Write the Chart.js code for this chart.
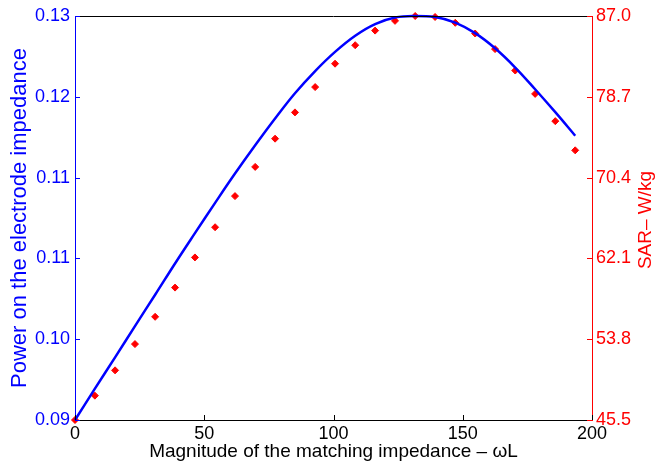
<!DOCTYPE html>
<html>
<head>
<meta charset="utf-8">
<script src="https://cdn.jsdelivr.net/npm/chart.js@4.4.1/dist/chart.umd.min.js"></script>
<style>
  body { margin: 0; background: #fff; }
  #wrap { width: 668px; height: 466px; }
</style>
</head>
<body>
<div id="wrap"><canvas id="sarChart"></canvas></div>
<script>
// matching impedance magnitude (omega L)
const impedance = [0, 7.7, 15.5, 23.2, 31.0, 38.7, 46.4, 54.2, 61.9, 69.7, 77.4, 85.1, 92.9,
    100.6, 108.4, 116.1, 123.8, 131.6, 139.3, 147.1, 154.8, 162.5, 170.3, 178.0, 185.8, 193.5];
// power on the electrode impedance (left axis)
const power = [0.0900, 0.0931, 0.0962, 0.0993, 0.1024, 0.1055, 0.1085, 0.1115, 0.1144, 0.1172,
    0.11985, 0.12235, 0.12455, 0.12645, 0.12805, 0.1292, 0.12985, 0.1300, 0.1299, 0.12935,
    0.1283, 0.1268, 0.1249, 0.12275, 0.12048, 0.11815];
// SAR W/kg (right axis)
const sar = [45.5, 48.0, 50.6, 53.3, 56.1, 59.1, 62.2, 65.3, 68.5, 71.5, 74.4, 77.1, 79.7,
    82.1, 84.0, 85.5, 86.5, 87.0, 86.9, 86.3, 85.2, 83.6, 81.4, 79.0, 76.2, 73.2];

const xTicks = [0, 50, 100, 150, 200];
const powerTicks = [0.09, 0.098, 0.106, 0.114, 0.122, 0.13];
const powerTickLabels = ['0.09', '0.10', '0.11', '0.11', '0.12', '0.13'];
const sarTicks = [45.5, 53.8, 62.1, 70.4, 78.7, 87.0];
const sarTickLabels = ['45.5', '53.8', '62.1', '70.4', '78.7', '87.0'];

const xTitle = 'Magnitude of the matching impedance \u2013 \u03c9L';
const powerTitle = 'Power on the electrode impedance';
const sarTitle = 'SAR\u2013 W/kg';

const FONT = "'Liberation Sans', Arial, Helvetica, sans-serif";
Chart.defaults.font.family = FONT;

// MATLAB style box: top edge, inward tick marks, right title read bottom-to-top
const boxPlugin = {
    id: 'matlabBox',
    afterDraw(chart) {
        const { ctx, chartArea: a, scales } = chart;
        ctx.save();
        ctx.lineWidth = 1;

        ctx.strokeStyle = '#000';
        ctx.beginPath();
        ctx.moveTo(a.left, Math.round(a.top) + 0.5);
        ctx.lineTo(a.right, Math.round(a.top) + 0.5);
        ctx.stroke();

        scales.x.ticks.forEach((t, i) => {
            const px = Math.round(scales.x.getPixelForTick(i)) + 0.5;
            ctx.beginPath();
            ctx.moveTo(px, a.bottom);
            ctx.lineTo(px, a.bottom - 5);
            ctx.stroke();
        });

        ctx.strokeStyle = '#0000ff';
        scales.y.ticks.forEach((t, i) => {
            const py = Math.round(scales.y.getPixelForTick(i)) + 0.5;
            ctx.beginPath();
            ctx.moveTo(a.left, py);
            ctx.lineTo(a.left + 5, py);
            ctx.stroke();
        });

        ctx.strokeStyle = '#ff0000';
        scales.y1.ticks.forEach((t, i) => {
            const py = Math.round(scales.y1.getPixelForTick(i)) + 0.5;
            ctx.beginPath();
            ctx.moveTo(a.right, py);
            ctx.lineTo(a.right - 5, py);
            ctx.stroke();
        });

        ctx.translate(646, (a.top + a.bottom) / 2 + 2);
        ctx.rotate(-Math.PI / 2);
        ctx.fillStyle = '#ff0000';
        ctx.font = '19px ' + FONT;
        ctx.textAlign = 'center';
        ctx.textBaseline = 'middle';
        ctx.fillText(scales.y1.options.title.text, 0, 0);
        ctx.restore();
    }
};

new Chart(document.getElementById('sarChart').getContext('2d'), {
    data: {
        datasets: [{
            type: 'line',
            label: powerTitle,
            data: impedance.map((x, i) => ({ x: x, y: power[i] })),
            yAxisID: 'y',
            borderColor: '#0000ff',
            borderWidth: 2.5,
            pointRadius: 0,
            tension: 0.4,
            fill: false,
            clip: false
        }, {
            type: 'scatter',
            label: sarTitle,
            data: impedance.map((x, i) => ({ x: x, y: sar[i] })),
            yAxisID: 'y1',
            pointStyle: 'rectRot',
            pointRadius: 3.5,
            backgroundColor: '#ff0000',
            borderColor: '#ff0000',
            borderWidth: 1,
            clip: false
        }]
    },
    options: {
        responsive: true,
        maintainAspectRatio: false,
        animation: false,
        layout: { padding: { top: 16, left: 0, right: 0, bottom: 0 } },
        plugins: {
            legend: { display: false },
            tooltip: { enabled: false }
        },
        scales: {
            x: {
                type: 'linear',
                min: 0,
                max: 200,
                afterBuildTicks: s => { s.ticks = xTicks.map(v => ({ value: v })); },
                afterFit: s => { s.height = 46; },
                grid: { display: false, drawTicks: false },
                border: { display: true, color: '#000', width: 1 },
                ticks: { color: '#000', font: { size: 18 }, padding: 3, maxRotation: 0 },
                title: { display: true, text: xTitle, color: '#000', font: { size: 19 }, padding: { top: 0, bottom: 3 } }
            },
            y: {
                type: 'linear',
                position: 'left',
                min: 0.09,
                max: 0.13,
                afterBuildTicks: s => { s.ticks = powerTicks.map(v => ({ value: v })); },
                afterFit: s => { s.width = 75; },
                grid: { display: false, drawTicks: false },
                border: { display: true, color: '#0000ff', width: 1 },
                ticks: {
                    color: '#0000ff',
                    font: { size: 18 },
                    padding: 5,
                    callback: (v, i) => powerTickLabels[i]
                },
                title: { display: true, text: powerTitle, color: '#0000ff', font: { size: 22 }, padding: { top: 7, bottom: 0 } }
            },
            y1: {
                type: 'linear',
                position: 'right',
                min: 45.5,
                max: 87.0,
                afterBuildTicks: s => { s.ticks = sarTicks.map(v => ({ value: v })); },
                afterFit: s => { s.width = 76; },
                grid: { display: false, drawTicks: false },
                border: { display: true, color: '#ff0000', width: 1 },
                ticks: {
                    color: '#ff0000',
                    font: { size: 18 },
                    padding: 4,
                    callback: (v, i) => sarTickLabels[i]
                },
                title: { display: false, text: sarTitle }
            }
        }
    },
    plugins: [boxPlugin]
});
</script>
</body>
</html>
